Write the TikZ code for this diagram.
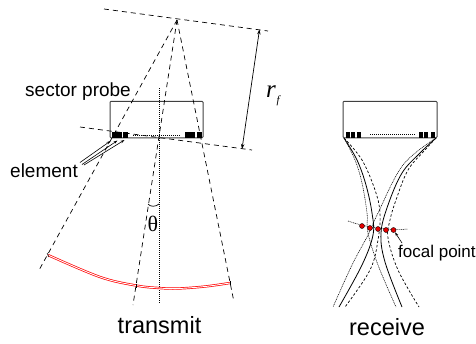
\documentclass[tikz,border=0pt]{standalone}
\usepackage{fontspec}
\setmainfont{Liberation Sans}
\newfontfamily\serifx{Liberation Serif}
\usetikzlibrary{arrows.meta}
\tikzset{
  probebox/.style={draw=black!75,line width=1pt,rounded corners=1pt},
  elem/.style={fill=black,draw=none,minimum width=5pt,minimum height=6pt,inner sep=0pt},
  dash1/.style={dash pattern=on 5pt off 4pt,line width=0.7pt},
  dots1/.style={dash pattern=on 1pt off 1pt,line width=0.7pt},
  thindots/.style={dash pattern=on 1pt off 0.8pt,line width=0.55pt},
  shortdash/.style={dash pattern=on 2.5pt off 2pt,line width=0.7pt},
  solidc/.style={line width=0.8pt},
  lab/.style={inner sep=0pt,font=\fontsize{19}{21}\selectfont},
  big/.style={inner sep=0pt,font=\fontsize{23.5}{25}\selectfont},
  ptr/.style={-{Stealth[length=4pt,width=2.6pt]},line width=0.6pt},
  dot/.style={circle,fill=red!90!black,draw=black,line width=0.4pt,minimum size=5pt,inner sep=0pt},
  wave/.style={draw=red,double=white,double distance=0.9pt,line width=0.7pt}
}
\begin{document}
\begin{tikzpicture}[x=1pt,y=-1pt]
\useasboundingbox (0,0) rectangle (476,343);
% key points
\coordinate (focus) at (177,20);
\coordinate (topL) at (104,9);
\coordinate (topR) at (268,31);
\coordinate (lowL) at (80,127);
\coordinate (lowR) at (252,150);
\coordinate (rayL) at (38,272);
\coordinate (rayC) at (133,305);
\coordinate (rayR) at (234,302);
\coordinate (axisT) at (159,88);
\coordinate (axisB) at (159,303);
\coordinate (rT) at (259.5,29.5);
\coordinate (rB) at (242,149);
% left probe
\node[probebox,minimum width=93pt,minimum height=36.5pt,inner sep=0pt] (probeA) at (156.5,119.5) {};
\foreach \n/\x in {a1/114.5,a2/119.5,a3/125.5,a4/187.5,a5/192.5,a6/199.5}
  \node[elem] (\n) at (\x,134.5) {};
\coordinate (dA1) at (133,135); \coordinate (dA2) at (181,135);
\draw[dots1] (dA1) -- (dA2);
% right probe
\node[probebox,minimum width=94pt,minimum height=36.5pt,inner sep=0pt] (probeB) at (390,119.5) {};
\foreach \n/\x in {b1/348,b2/353,b3/359,b4/421,b5/426,b6/433}
  \node[elem,minimum width=4.4pt] (\n) at (\x,134.5) {};
\coordinate (dB1) at (370,134.5); \coordinate (dB2) at (415,134.5);
\draw[dots1] (dB1) -- (dB2);
% dashed construction lines
\draw[dash1] (topL) -- (topR);
\draw[dash1] (lowL) -- (lowR);
\draw[dash1] (focus) -- (rayL);
\draw[dash1] (focus) -- (rayC);
\draw[dash1] (focus) -- (rayR);
\draw[dots1] (axisT) -- (axisB);
\draw[{Stealth[length=5pt,width=3.5pt]}-{Stealth[length=5pt,width=3.5pt]},line width=0.7pt] (rT) -- (rB);
% wavefront
\draw[wave] plot[smooth,tension=0.6] coordinates {(48,255) (100,277) (136,285.5) (159,288) (178,288.5) (205,286.5) (230,283)};
\draw[line width=0.5pt] (47,253) -- (49,257);
\draw[line width=0.5pt] (136,283.5) -- (136,287.5);
\draw[line width=0.5pt] (230.5,281) -- (230.5,285);
% angle brace
\draw[line width=0.7pt] (148,204) .. controls (150,207) and (156,207) .. (159,204);
% element pointers
\coordinate (eA) at (80,162.5); \coordinate (eB) at (82,164.5); \coordinate (eC) at (84,165);
\draw[ptr] (eA) -- (110.5,141);
\draw[ptr] (eB) -- (117.5,140.5);
\draw[ptr] (eC) -- (124.5,140);
% receive curves
\draw[solidc] plot[smooth,tension=0.6] coordinates {(344,138) (357,160) (366,185) (372,213) (373,235) (362,265) (339,307)};
\draw[solidc] plot[smooth,tension=0.6] coordinates {(436,138) (420,153) (402,173) (388,205) (381,233) (385,262) (402,307)};
\draw[thindots] plot[smooth,tension=0.6] coordinates {(344,138) (355,160) (362,183) (367,213) (368,233) (378,265) (396,307)};
\draw[thindots] plot[smooth,tension=0.6] coordinates {(436,138) (403,165) (378,213) (368,235) (352,265) (333,307)};
\draw[shortdash] plot[smooth,tension=0.6] coordinates {(344,138) (362,160) (375,190) (380,213) (378,240) (370,270) (345,307)};
\draw[shortdash] plot[smooth,tension=0.6] coordinates {(436,138) (425,150) (408,170) (396,200) (390,220) (388,238) (398,270) (419,307)};
% focal arc
\coordinate (fL) at (348,221); \coordinate (fR) at (408,229);
\draw[thindots] (fL) .. controls (362,226) and (385,231) .. (fR);
\foreach \n/\x/\y in {f1/362/226,f2/370/228,f3/378/229,f4/386/230,f5/393.5/230}
  \node[dot] (\n) at (\x,\y) {};
\coordinate (fp) at (402,243);
\draw[ptr] (fp) -- (f5);
% labels
\node[lab,anchor=base west] (tSector) at (25,96.5) {sector probe};
\node[lab,anchor=base west] (tElement) at (10,177) {element};
\node[lab,anchor=base west,font=\fontsize{17}{19}\selectfont] (tFocal) at (398,257.5) {focal point};
\node[big,anchor=base] (tTransmit) at (159.5,333) {transmit};
\node[big,anchor=base] (tReceive) at (387,335) {receive};
\node[inner sep=0pt,anchor=base,font=\serifx\fontsize{22}{24}\selectfont] (tTheta) at (153,231) {θ};
\node[inner sep=0pt,anchor=base west,font=\serifx\itshape\fontsize{25}{25}\selectfont] (tR) at (266,97) {r};
\node[inner sep=0pt,anchor=base west,font=\serifx\itshape\fontsize{11}{11}\selectfont] (tF) at (276.5,103) {f};
\end{tikzpicture}
\end{document}
